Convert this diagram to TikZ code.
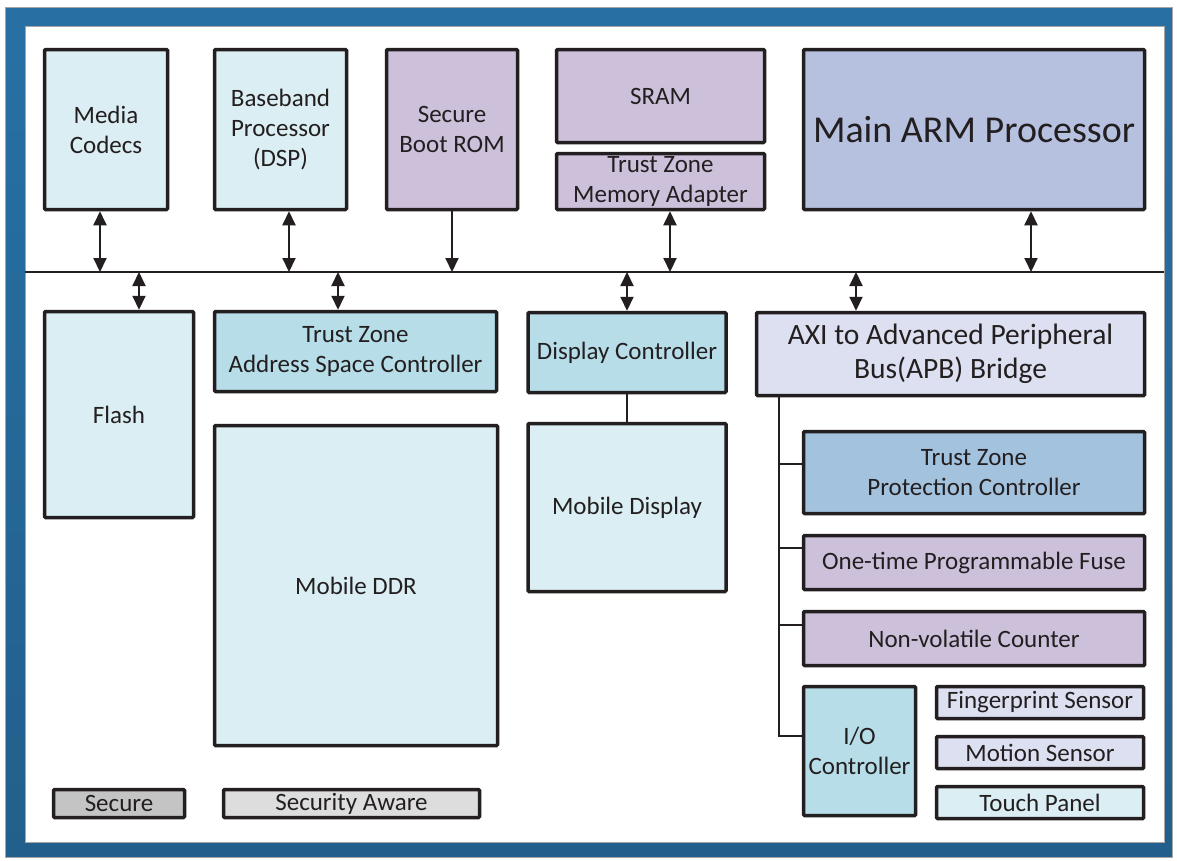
\documentclass[tikz,border=0pt]{standalone}
\usepackage{fontspec}
\setmainfont{Carlito}
\usetikzlibrary{arrows.meta}

\definecolor{frametop}{RGB}{40,112,164}
\definecolor{framebot}{RGB}{34,95,140}
\definecolor{ink}{RGB}{35,31,32}
\definecolor{cyanlt}{RGB}{218,238,243}
\definecolor{cyanmd}{RGB}{182,221,232}
\definecolor{lavender}{RGB}{204,192,218}
\definecolor{armblue}{RGB}{182,192,223}
\definecolor{paleblue}{RGB}{220,224,240}
\definecolor{tzpcblue}{RGB}{162,194,222}
\definecolor{securegrey}{RGB}{196,196,196}
\definecolor{awaregrey}{RGB}{221,221,221}

\tikzset{every picture/.style={line width=2pt}}
\tikzset{
  blk/.style={draw=ink, line width=3.5pt, rounded corners=1pt, align=center,
    text=ink, inner sep=0pt, font=\fontsize{25}{30}\selectfont},
  wire/.style={draw=ink, line width=2pt},
  biarrow/.style={wire, {Triangle[length=14pt,width=13pt]}-{Triangle[length=14pt,width=13pt]}},
  downarrow/.style={wire, -{Triangle[length=14pt,width=13pt]}}
}

\begin{document}
\begin{tikzpicture}[x=1pt,y=1pt,yscale=-1,xscale=1]
\useasboundingbox (0,0) rectangle (1177,860);

%Shape: Frame
\shade [top color=frametop, bottom color=framebot, draw=gray!70, line width=0.8pt] (5,7) rectangle (1172,857);
\fill [white, draw=gray!70, line width=0.8pt] (25,26) rectangle (1164,842);

%Straight Lines: system bus
\coordinate (busL) at (25,272);
\coordinate (busR) at (1164,272);
\draw [wire] (busL) -- (busR);

% Top row
\node [blk, fill=cyanlt, minimum width=123, minimum height=160] (media) at (106,129.5) {Media\\Codecs};
\node [blk, fill=cyanlt, minimum width=132, minimum height=160] (baseband) at (280.5,129.5) {Baseband\\Processor\\(DSP)};
\node [blk, fill=lavender, minimum width=131, minimum height=160] (bootrom) at (452,129.5) {Secure\\Boot ROM};
\node [blk, fill=lavender, minimum width=208, minimum height=93] (sram) at (660.5,96) {SRAM};
\node [blk, fill=lavender, minimum width=208, minimum height=56] (tzma) at (660.5,181.5) {Trust Zone\\Memory Adapter};
\node [blk, fill=armblue, minimum width=341, minimum height=160, font=\fontsize{38}{44}\selectfont] (arm) at (974,129.5) {Main ARM Processor};

% Bottom left and middle
\node [blk, fill=cyanlt, minimum width=149, minimum height=206] (flash) at (119,414.5) {Flash};
\node [blk, fill=cyanmd, minimum width=282, minimum height=80] (tzasc) at (355.5,351.5) {Trust Zone\\Address Space Controller};
\node [blk, fill=cyanlt, minimum width=283, minimum height=320] (ddr) at (356,585.5) {Mobile DDR};
\node [blk, fill=cyanmd, minimum width=198, minimum height=80] (dispctl) at (627,352.5) {Display Controller};
\node [blk, fill=cyanlt, minimum width=198, minimum height=168] (mdisp) at (627,507.5) {Mobile Display};

% Peripheral side
\node [blk, fill=paleblue, minimum width=388, minimum height=83, font=\fontsize{29.5}{34}\selectfont] (axi) at (950.5,354) {AXI to Advanced Peripheral\\Bus(APB) Bridge};
\node [blk, fill=tzpcblue, minimum width=341, minimum height=82] (tzpc) at (974,472.5) {Trust Zone\\Protection Controller};
\node [blk, fill=lavender, minimum width=341, minimum height=54] (otp) at (974,562.5) {One-time Programmable Fuse};
\node [blk, fill=lavender, minimum width=341, minimum height=54] (nvc) at (974,638.5) {Non-volatile Counter};
\node [blk, fill=cyanmd, minimum width=112, minimum height=129] (io) at (859.5,751) {I/O\\Controller};
\node [blk, fill=paleblue, minimum width=207, minimum height=32] (finger) at (1040,702.5) {Fingerprint Sensor};
\node [blk, fill=paleblue, minimum width=207, minimum height=32] (motion) at (1040,752.5) {Motion Sensor};
\node [blk, fill=cyanlt, minimum width=207, minimum height=32] (touch) at (1040,802.5) {Touch Panel};

% Legend
\node [blk, fill=securegrey, minimum width=131, minimum height=28] (secure) at (119,803.5) {Secure};
\node [blk, fill=awaregrey, minimum width=256, minimum height=28] (aware) at (351.5,803.5) {Security Aware};

% Bus connections, top
\draw [biarrow] ([xshift=-6pt]media.south) -- ([xshift=-6pt]media.south |- busL);
\draw [biarrow] ([xshift=8.5pt]baseband.south) -- ([xshift=8.5pt]baseband.south |- busL);
\draw [downarrow] (bootrom.south) -- (bootrom.south |- busL);
\draw [biarrow] ([xshift=9.5pt]tzma.south) -- ([xshift=9.5pt]tzma.south |- busL);
\draw [biarrow] ([xshift=57pt]arm.south) -- ([xshift=57pt]arm.south |- busL);

% Bus connections, bottom
\draw [biarrow] ([xshift=20pt]flash.north |- busL) -- ([xshift=20pt]flash.north);
\draw [biarrow] ([xshift=-17.5pt]tzasc.north |- busL) -- ([xshift=-17.5pt]tzasc.north);
\draw [biarrow] (dispctl.north |- busL) -- (dispctl.north);
\draw [biarrow] ([xshift=-94.5pt]axi.north |- busL) -- ([xshift=-94.5pt]axi.north);

% Display link
\draw [wire] (dispctl) -- (mdisp);

% APB tree
\coordinate (apb) at ([xshift=-171.5pt]axi.south);
\coordinate (ioTap) at ([yshift=-15pt]io.west);
\coordinate (tzpcTap) at ([yshift=-8.5pt]tzpc.west);
\coordinate (otpTap) at ([yshift=-14.5pt]otp.west);
\coordinate (nvcTap) at ([yshift=-13.5pt]nvc.west);
\draw [wire] (apb) -- (apb |- ioTap) -- (ioTap);
\draw [wire] (apb |- tzpcTap) -- (tzpcTap);
\draw [wire] (apb |- otpTap) -- (otpTap);
\draw [wire] (apb |- nvcTap) -- (nvcTap);

\end{tikzpicture}
\end{document}
